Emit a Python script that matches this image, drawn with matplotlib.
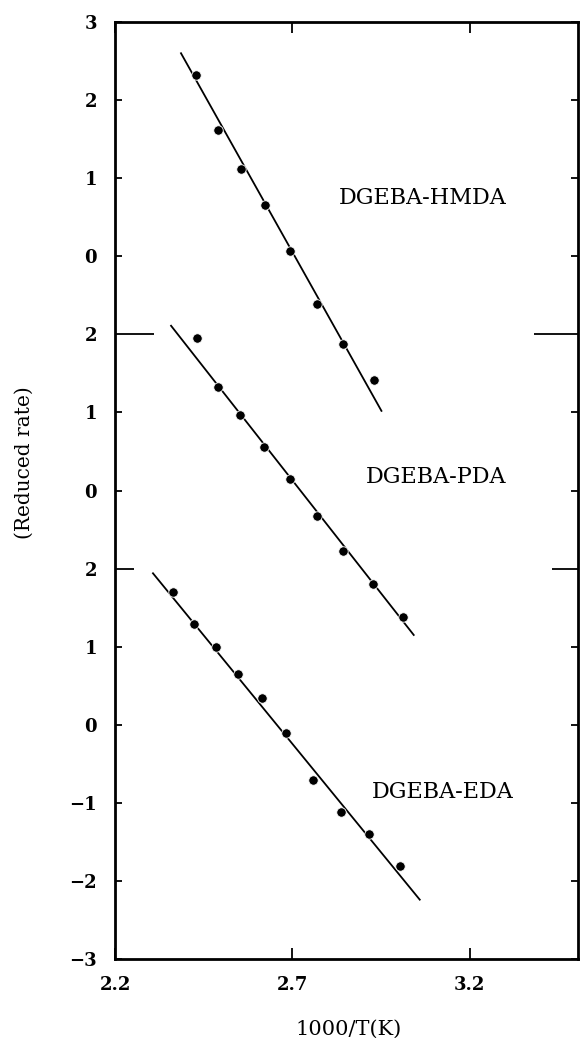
import numpy as np
import matplotlib
matplotlib.use("Agg")
from matplotlib import pyplot as plt

plt.rcParams['font.family'] = ['DejaVu Serif']

# measured reduced rates vs 1000/T for the three amine systems
hmda_x = [2.429, 2.491, 2.556, 2.624, 2.692, 2.768, 2.844, 2.929]
hmda_y = [2.32, 1.62, 1.12, 0.66, 0.07, -0.61, -1.12, -1.58]

pda_x = [2.431, 2.491, 2.553, 2.621, 2.692, 2.768, 2.844, 2.926, 3.011]
pda_y = [1.95, 1.33, 0.97, 0.56, 0.15, -0.33, -0.77, -1.20, -1.62]

eda_x = [2.364, 2.423, 2.485, 2.547, 2.615, 2.683, 2.757, 2.836, 2.915, 3.002]
eda_y = [1.70, 1.29, 1.00, 0.65, 0.34, -0.11, -0.71, -1.12, -1.40, -1.81]

# fitted straight lines (end points)
hmda_fit_x = [2.386, 2.951]
hmda_fit_y = [2.60, -1.98]
pda_fit_x = [2.358, 3.042]
pda_fit_y = [2.11, -1.85]
eda_fit_x = [2.307, 3.059]
eda_fit_y = [1.94, -2.24]

# each panel is shifted up on one shared axis
offsets = {'EDA': 3, 'PDA': 6, 'HMDA': 9}
ytick_pos = list(range(13))
ytick_labels = ['\u22123', '\u22122', '\u22121', '0', '1', '2',
                '0', '1', '2', '0', '1', '2', '3']
xticks = [2.2, 2.7, 3.2]

fig = plt.figure(figsize=(5.82, 10.38), dpi=100)
ax = fig.add_axes([0.1976, 0.0761, 0.7955, 0.9027])

series = [
    ('HMDA', hmda_x, hmda_y, hmda_fit_x, hmda_fit_y),
    ('PDA', pda_x, pda_y, pda_fit_x, pda_fit_y),
    ('EDA', eda_x, eda_y, eda_fit_x, eda_fit_y),
]
for name, x, y, fx, fy in series:
    off = offsets[name]
    ax.plot(fx, np.array(fy) + off, color='black', lw=1.3, zorder=2)
    ax.plot(x, np.array(y) + off, 'o', color='black', ms=6.8,
            mec='white', mew=0.6, zorder=3)

ax.text(3.067, 9.75, 'DGEBA-HMDA', fontsize=16, ha='center', va='center')
ax.text(3.104, 6.17, 'DGEBA-PDA', fontsize=16, ha='center', va='center')
ax.text(3.125, 2.14, 'DGEBA-EDA', fontsize=16, ha='center', va='center')

ax.set_xlim(2.2, 3.505)
ax.set_ylim(0, 12)
ax.set_xticks(xticks)
ax.set_xticklabels([f'{v:.1f}' for v in xticks], fontweight='bold', fontsize=13)
ax.set_yticks(ytick_pos)
ax.set_yticklabels(ytick_labels, fontweight='bold', fontsize=13)

ax.tick_params(axis='x', direction='in', length=8, width=1.3, pad=12,
               top=True, bottom=True)
ax.tick_params(axis='y', direction='in', length=5, width=1.3, pad=13,
               left=True, right=True)

# longer marks where one panel hands over to the next
seps = {5: (13.7, 18.7), 8: (28, 31.7)}
for i, tick in enumerate(ax.yaxis.get_major_ticks()):
    if i in seps:
        left_len, right_len = seps[i]
        tick.tick1line.set_markersize(left_len)
        tick.tick2line.set_markersize(right_len)

for sp in ax.spines.values():
    sp.set_linewidth(2.0)

ax.set_ylabel('(Reduced rate)', fontsize=14.5)
ax.yaxis.set_label_coords(-0.175, 0.53)
ax.set_xlabel('1000/T(K)', fontsize=15)
ax.xaxis.set_label_coords(0.505, -0.065)

fig.savefig('out.png', dpi=100)
